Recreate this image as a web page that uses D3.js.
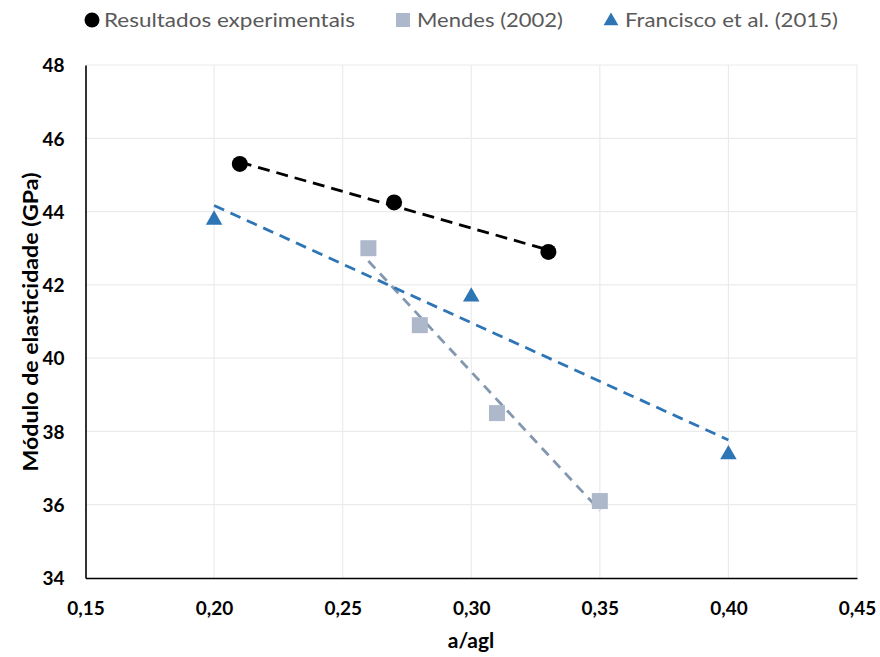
<!DOCTYPE html>
<html><head><meta charset="utf-8">
<script src="https://cdn.jsdelivr.net/npm/d3@7"></script>
<style>body{margin:0;background:#fff}svg{display:block}text{font-family:Lato,"Open Sans",sans-serif}</style>
</head><body><svg id="c" width="880" height="657"></svg>
<script>
const expX = [0.21, 0.27, 0.33];
const expY = [45.3, 44.25, 42.9];
const menX = [0.26, 0.28, 0.31, 0.35];
const menY = [43.0, 40.9, 38.5, 36.1];
const fraX = [0.20, 0.30, 0.40];
const fraY = [43.8, 41.7, 37.4];
const xTicks = [0.15, 0.20, 0.25, 0.30, 0.35, 0.40, 0.45];
const yTicks = [34, 36, 38, 40, 42, 44, 46, 48];
const seriesNames = ["Resultados experimentais", "Mendes (2002)", "Francisco et al. (2015)"];

const svg = d3.select("#c");
const x = d3.scaleLinear().domain([0.15, 0.45]).range([85.5, 857]);
const y = d3.scaleLinear().domain([34, 48]).range([578, 65]);
const fmt = v => d3.format(".2f")(v).replace(".", ",");

// grid
svg.append("g").selectAll("line").data(yTicks.slice(1)).join("line")
  .attr("x1", x(0.15)).attr("x2", x(0.45)).attr("y1", d => y(d)).attr("y2", d => y(d))
  .attr("stroke", "#ebebeb").attr("stroke-width", 1.2);
svg.append("g").selectAll("line").data(xTicks.slice(1)).join("line")
  .attr("y1", y(34)).attr("y2", y(48)).attr("x1", d => x(d)).attr("x2", d => x(d))
  .attr("stroke", "#ebebeb").attr("stroke-width", 1.2);

// axes
const gx = svg.append("g").attr("transform", `translate(0,${y(34)})`)
  .call(d3.axisBottom(x).tickValues(xTicks).tickFormat(fmt).tickSize(0).tickPadding(24));
const gy = svg.append("g").attr("transform", `translate(${x(0.15)},0)`)
  .call(d3.axisLeft(y).tickValues(yTicks).tickFormat(d3.format("d")).tickSize(0).tickPadding(21));
[gx, gy].forEach(g => {
  g.select(".domain").attr("stroke", "#000").attr("stroke-width", 1.6);
  g.selectAll("text").attr("font-size", 19).attr("font-weight", "bold").attr("fill", "#000")
   .attr("font-family", "Lato, sans-serif");
});
gy.selectAll("text").attr("dy", "0.36em");

// titles
svg.append("text").attr("x", 471).attr("y", 648).attr("text-anchor", "middle")
  .attr("font-size", 21).attr("font-weight", "bold").text("a/agl");
svg.append("text").attr("transform", "translate(38,322) rotate(-90)").attr("text-anchor", "middle")
  .attr("font-size", 21).attr("font-weight", "bold")
  .attr("textLength", 299).attr("lengthAdjust", "spacingAndGlyphs")
  .text("Módulo de elasticidade (GPa)");

// trendlines (least squares)
function fit(xs, ys) {
  const mx = d3.mean(xs), my = d3.mean(ys);
  const b = d3.sum(xs.map((v, i) => (v - mx) * (ys[i] - my))) / d3.sum(xs.map(v => (v - mx) ** 2));
  const a = my - b * mx;
  const x0 = d3.min(xs), x1 = d3.max(xs);
  return [[x0, a + b * x0], [x1, a + b * x1]];
}
const line = d3.line().x(d => x(d[0])).y(d => y(d[1]));
const trends = [
  [expX, expY, "#000000", "12,7"],
  [menX, menY, "#8497B0", "10,7"],
  [fraX, fraY, "#2E75B6", "11,7"]
];
trends.forEach(([xs, ys, c, da]) => {
  svg.append("path").attr("d", line(fit(xs, ys))).attr("fill", "none")
    .attr("stroke", c).attr("stroke-width", 2.8).attr("stroke-dasharray", da);
});

// markers
svg.append("g").selectAll("circle").data(expX.map((v, i) => [v, expY[i]])).join("circle")
  .attr("cx", d => x(d[0])).attr("cy", d => y(d[1])).attr("r", 8).attr("fill", "#000");
svg.append("g").selectAll("rect").data(menX.map((v, i) => [v, menY[i]])).join("rect")
  .attr("x", d => x(d[0]) - 8).attr("y", d => y(d[1]) - 8).attr("width", 16).attr("height", 16)
  .attr("fill", "#ADB9CA");
const tri = d3.symbol().type(d3.symbolTriangle).size(118);
svg.append("g").selectAll("path").data(fraX.map((v, i) => [v, fraY[i]])).join("path")
  .attr("transform", d => `translate(${x(d[0])},${y(d[1]) + 1})`).attr("d", tri()).attr("fill", "#2E75B6");

// legend
const lg = svg.append("g");
lg.append("circle").attr("cx", 92).attr("cy", 20).attr("r", 7.5).attr("fill", "#000");
lg.append("rect").attr("x", 396).attr("y", 13).attr("width", 14).attr("height", 14).attr("fill", "#ADB9CA");
lg.append("path").attr("transform", "translate(611,21)").attr("d", d3.symbol().type(d3.symbolTriangle).size(95)()).attr("fill", "#2E75B6");
const legX = [[104, 251], [417, 146], [625, 213]];
seriesNames.forEach((n, i) => {
  lg.append("text").attr("x", legX[i][0]).attr("y", 27).attr("font-size", 20).attr("fill", "#595959")
    .attr("textLength", legX[i][1]).attr("lengthAdjust", "spacingAndGlyphs").text(n);
});
</script></body></html>
